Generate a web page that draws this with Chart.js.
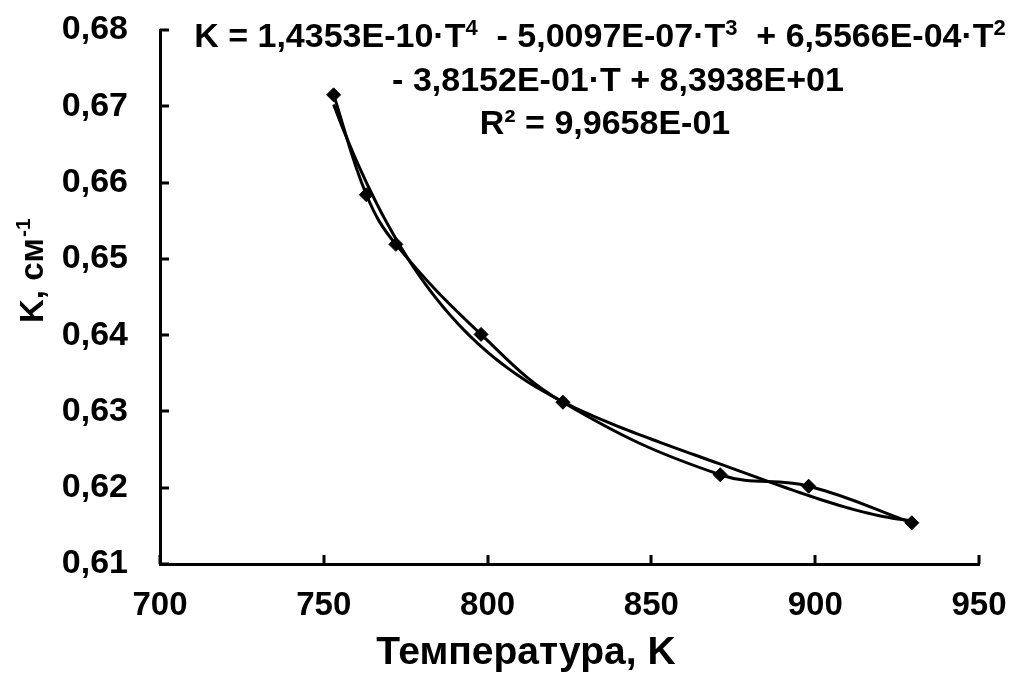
<!DOCTYPE html>
<html>
<head>
<meta charset="utf-8">
<script src="https://cdn.jsdelivr.net/npm/chart.js@4.4.1/dist/chart.umd.min.js"></script>
<style>
  html, body { margin: 0; padding: 0; background: #fff; }
  #wrap { width: 1013px; height: 673px; }
</style>
</head>
<body>
<div id="wrap"><canvas id="c" width="1013" height="673"></canvas></div>
<script>
// measured points (temperature, K; absorption coefficient, cm^-1)
const temps = [753, 763, 772, 798, 823, 871, 898, 929.5];
const kVals = [0.6715, 0.6584, 0.6519, 0.6401, 0.6312, 0.6217, 0.6202, 0.6154];

const xTicks = [700, 750, 800, 850, 900, 950];
const xTickLabels = ["700", "750", "800", "850", "900", "950"];
const yTicks = [0.61, 0.62, 0.63, 0.64, 0.65, 0.66, 0.67, 0.68];
const yTickLabels = ["0,61", "0,62", "0,63", "0,64", "0,65", "0,66", "0,67", "0,68"];

const eqLines = [
  [["K = 1,4353E-10·T"], ["4", 1], ["  - 5,0097E-07·T"], ["3", 1], ["  + 6,5566E-04·T"], ["2", 1]],
  [["- 3,8152E-01·T + 8,3938E+01"]],
  [["R² = 9,9658E-01"]],
];

const FONT = '"Liberation Sans", Arial, sans-serif';

// 4th order least squares trendline through the measured points
function polyFit(xs, ys, deg) {
  const x0 = 840, s = 100;
  const n = deg + 1;
  const A = Array.from({ length: n }, () => new Array(n + 1).fill(0));
  xs.forEach((x, k) => {
    const t = (x - x0) / s;
    for (let i = 0; i < n; i++) {
      for (let j = 0; j < n; j++) A[i][j] += Math.pow(t, i + j);
      A[i][n] += ys[k] * Math.pow(t, i);
    }
  });
  for (let i = 0; i < n; i++) {
    let p = i;
    for (let r = i + 1; r < n; r++) if (Math.abs(A[r][i]) > Math.abs(A[p][i])) p = r;
    [A[i], A[p]] = [A[p], A[i]];
    for (let r = 0; r < n; r++) {
      if (r === i) continue;
      const f = A[r][i] / A[i][i];
      for (let c = i; c <= n; c++) A[r][c] -= f * A[i][c];
    }
  }
  const coef = A.map((row, i) => row[n] / row[i]);
  return (x) => {
    const t = (x - x0) / s;
    return coef.reduce((acc, c, i) => acc + c * Math.pow(t, i), 0);
  };
}

const fit = polyFit(temps, kVals, 4);
const trend = [];
const tMin = temps[0], tMax = temps[temps.length - 1];
for (let i = 0; i <= 120; i++) {
  const x = tMin + (tMax - tMin) * i / 120;
  trend.push({ x, y: fit(x) });
}

const decorPlugin = {
  id: "decor",
  afterDraw(chart) {
    const { ctx, scales: { x, y } } = chart;
    ctx.save();
    // inside tick marks
    ctx.strokeStyle = "#000";
    ctx.lineWidth = 3;
    ctx.beginPath();
    xTicks.forEach((v) => {
      const px = Math.round(x.getPixelForValue(v));
      ctx.moveTo(px, y.bottom);
      ctx.lineTo(px, y.bottom - 9);
    });
    yTicks.forEach((v) => {
      const py = Math.round(y.getPixelForValue(v));
      ctx.moveTo(x.left, py);
      ctx.lineTo(x.left + 9, py);
    });
    ctx.stroke();

    ctx.fillStyle = "#000";
    // x title
    ctx.font = `bold 39px ${FONT}`;
    ctx.textAlign = "center";
    ctx.textBaseline = "alphabetic";
    ctx.fillText("Температура, K", 526, 664);

    // y title, rotated, with superscript
    ctx.save();
    ctx.translate(43, 323);
    ctx.rotate(-Math.PI / 2);
    ctx.textAlign = "left";
    ctx.font = `bold 33px ${FONT}`;
    const base = "K, см";
    ctx.fillText(base, 0, 0);
    const w = ctx.measureText(base).width;
    ctx.font = `bold 21px ${FONT}`;
    ctx.fillText("-1", w + 1, -13);
    ctx.restore();

    // trendline equation
    const centers = [600, 618, 605];
    const baselines = [47, 91, 134];
    eqLines.forEach((parts, li) => {
      let total = 0;
      const widths = parts.map(([txt, sup]) => {
        ctx.font = sup ? `bold 22px ${FONT}` : `bold 34px ${FONT}`;
        const m = ctx.measureText(txt).width;
        total += m;
        return m;
      });
      let cx = centers[li] - total / 2;
      ctx.textAlign = "left";
      parts.forEach(([txt, sup], i) => {
        ctx.font = sup ? `bold 22px ${FONT}` : `bold 34px ${FONT}`;
        ctx.fillText(txt, cx, baselines[li] - (sup ? 12 : 0));
        cx += widths[i];
      });
    });
    ctx.restore();
  },
};

new Chart(document.getElementById("c"), {
  type: "scatter",
  data: {
    datasets: [
      {
        label: "K",
        data: temps.map((t, i) => ({ x: t, y: kVals[i] })),
        showLine: true,
        tension: 0.4,
        borderColor: "#000",
        borderWidth: 3,
        pointStyle: "rectRot",
        pointRadius: 7,
        pointBackgroundColor: "#000",
        pointBorderColor: "#000",
        pointBorderWidth: 1,
      },
      {
        label: "trend",
        data: trend,
        showLine: true,
        tension: 0,
        borderColor: "#000",
        borderWidth: 3,
        pointRadius: 0,
      },
    ],
  },
  options: {
    responsive: false,
    animation: false,
    events: [],
    layout: { padding: { top: 30, right: 34, left: 0, bottom: 0 } },
    plugins: { legend: { display: false }, tooltip: { enabled: false } },
    scales: {
      x: {
        type: "linear",
        min: 700,
        max: 950,
        afterBuildTicks: (s) => { s.ticks = xTicks.map((v) => ({ value: v })); },
        afterFit: (s) => { s.height = 109; s.paddingLeft = 0; s.paddingRight = 0; },
        grid: { display: false, drawTicks: false },
        border: { display: true, color: "#000", width: 3 },
        ticks: {
          padding: 22,
          color: "#000",
          font: { family: FONT, size: 33, weight: "bold" },
          maxRotation: 0,
          callback: (v, i) => xTickLabels[i],
        },
      },
      y: {
        type: "linear",
        min: 0.61,
        max: 0.68,
        afterBuildTicks: (s) => { s.ticks = yTicks.map((v) => ({ value: v })); },
        afterFit: (s) => { s.width = 160; s.paddingTop = 0; s.paddingBottom = 0; },
        grid: { display: false, drawTicks: false },
        border: { display: true, color: "#000", width: 3 },
        ticks: {
          padding: 32,
          color: "#000",
          font: { family: FONT, size: 34, weight: "bold" },
          callback: (v, i) => yTickLabels[i],
        },
      },
    },
  },
  plugins: [decorPlugin],
});
</script>
</body>
</html>
